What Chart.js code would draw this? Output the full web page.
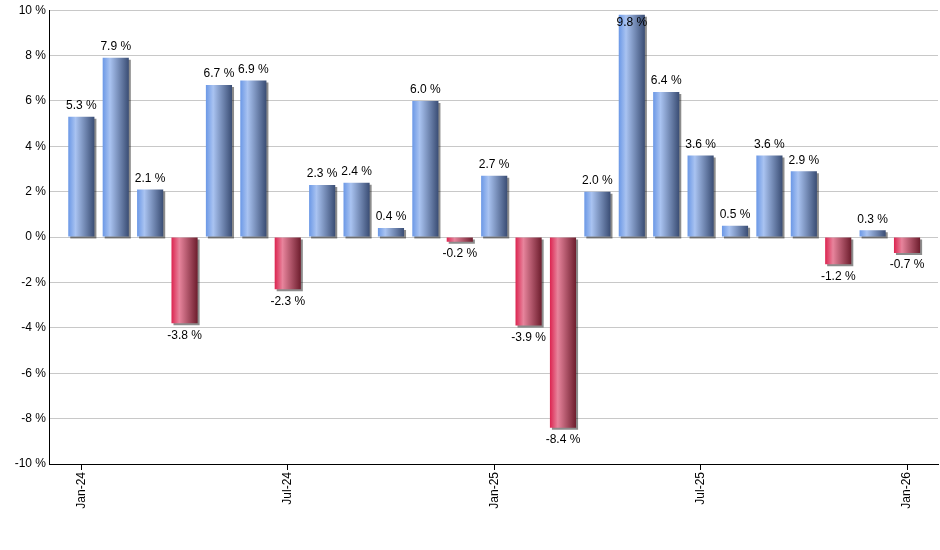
<!DOCTYPE html>
<html>
<head>
<meta charset="utf-8">
<script src="https://cdn.jsdelivr.net/npm/chart.js@4.4.1/dist/chart.umd.min.js"></script>
<style>
    html, body { margin: 0; padding: 0; background: #fff; }
    #wrap { width: 940px; height: 550px; }
</style>
</head>
<body>
<div id="wrap"><canvas id="returnsChart" width="940" height="550"></canvas></div>
<script>
// Monthly returns, Jan-24 .. Jan-26
// ----------------------------------------------
const months = [
    "Jan-24", "Feb-24", "Mar-24", "Apr-24", "May-24", "Jun-24",
    "Jul-24", "Aug-24", "Sep-24", "Oct-24", "Nov-24", "Dec-24",
    "Jan-25", "Feb-25", "Mar-25", "Apr-25", "May-25", "Jun-25",
    "Jul-25", "Aug-25", "Sep-25", "Oct-25", "Nov-25", "Dec-25",
    "Jan-26"
];
const returns = [
    5.3, 7.9, 2.1, -3.8, 6.7, 6.9,
    -2.3, 2.3, 2.4, 0.4, 6.0, -0.2,
    2.7, -3.9, -8.4, 2.0, 9.8, 6.4,
    3.6, 0.5, 3.6, 2.9, -1.2, 0.3,
    -0.7
];
const xTickIdx = [0, 6, 12, 18, 24];
const yTicks   = [-10, -8, -6, -4, -2, 0, 2, 4, 6, 8, 10];

const barPct = 0.76;
const fontFamily = "'Liberation Sans', Arial, sans-serif";

// Cylinder-like horizontal gradient for each bar
function barFill(ctx) {
    const chart = ctx.chart;
    const xs = chart.scales.x;
    const v = returns[ctx.dataIndex];
    const flat = v >= 0 ? '#6b98e6' : '#dc2450';
    if (!xs || ctx.dataIndex === undefined) return flat;
    const c = xs.getPixelForValue(ctx.dataIndex);
    const half = (xs.getPixelForValue(1) - xs.getPixelForValue(0)) * barPct / 2;
    if (!isFinite(c) || !isFinite(half) || half <= 0) return flat;
    const g = chart.ctx.createLinearGradient(c - half, 0, c + half, 0);
    if (v >= 0) {
        g.addColorStop(0, '#6b98e6');
        g.addColorStop(0.28, '#a9c3f1');
        g.addColorStop(1, '#3a4d74');
    } else {
        g.addColorStop(0, '#dc2450');
        g.addColorStop(0.3, '#e7849c');
        g.addColorStop(1, '#6d1d2d');
    }
    return g;
}

// Drop shadow under the bars
const barShadow = {
    id: 'barShadow',
    beforeDatasetDraw(chart) {
        const c = chart.ctx;
        c.save();
        c.shadowColor = 'rgba(0, 0, 0, 0.45)';
        c.shadowOffsetX = 2;
        c.shadowOffsetY = 2;
        c.shadowBlur = 0;
    },
    afterDatasetDraw(chart) {
        chart.ctx.restore();
    }
};

// Value labels above / below bars
const valueLabels = {
    id: 'valueLabels',
    afterDatasetsDraw(chart) {
        const c = chart.ctx;
        const meta = chart.getDatasetMeta(0);
        const top = chart.chartArea.top;
        c.save();
        c.font = '12px ' + fontFamily;
        c.fillStyle = '#000';
        c.textAlign = 'center';
        meta.data.forEach((bar, i) => {
            const v = returns[i];
            const txt = v.toFixed(1) + ' %';
            if (v >= 0) {
                c.textBaseline = 'bottom';
                c.fillText(txt, bar.x, Math.max(bar.y - 5, top + 18));
            } else {
                c.textBaseline = 'top';
                c.fillText(txt, bar.x, bar.y + 6);
            }
        });
        c.restore();
    }
};

const chart = new Chart(document.getElementById('returnsChart'), {
    type: 'bar',
    data: {
        datasets: [{
            data: returns.map((v, i) => ({ x: i, y: v })),
            backgroundColor: barFill,
            borderWidth: 0,
            barPercentage: barPct,
            categoryPercentage: 1
        }]
    },
    options: {
        responsive: false,
        animation: false,
        devicePixelRatio: 1,
        layout: { padding: { top: 9, right: 2, left: 0, bottom: 0 } },
        plugins: {
            legend: { display: false },
            tooltip: { enabled: false }
        },
        scales: {
            x: {
                type: 'linear',
                offset: false,
                min: -0.94,
                max: 24.9,
                afterBuildTicks: (s) => { s.ticks = xTickIdx.map(v => ({ value: v })); },
                afterFit: (s) => { s.height = 86; },
                border: { color: '#000', width: 1 },
                grid: {
                    offset: false,
                    drawOnChartArea: false,
                    color: '#000',
                    tickLength: 6
                },
                ticks: {
                    autoSkip: false,
                    maxRotation: 90,
                    minRotation: 90,
                    padding: 2,
                    color: '#000',
                    font: { size: 12, family: fontFamily },
                    callback: (v) => months[v]
                }
            },
            y: {
                min: -10,
                max: 10,
                afterBuildTicks: (s) => { s.ticks = yTicks.map(v => ({ value: v })); },
                afterFit: (s) => { s.width = 49; },
                border: { color: '#000', width: 1 },
                grid: {
                    color: '#c8c8c8',
                    drawTicks: false
                },
                ticks: {
                    padding: 3,
                    color: '#000',
                    font: { size: 12, family: fontFamily },
                    callback: (v) => v + ' %'
                }
            }
        }
    },
    plugins: [barShadow, valueLabels]
});
</script>
</body>
</html>
